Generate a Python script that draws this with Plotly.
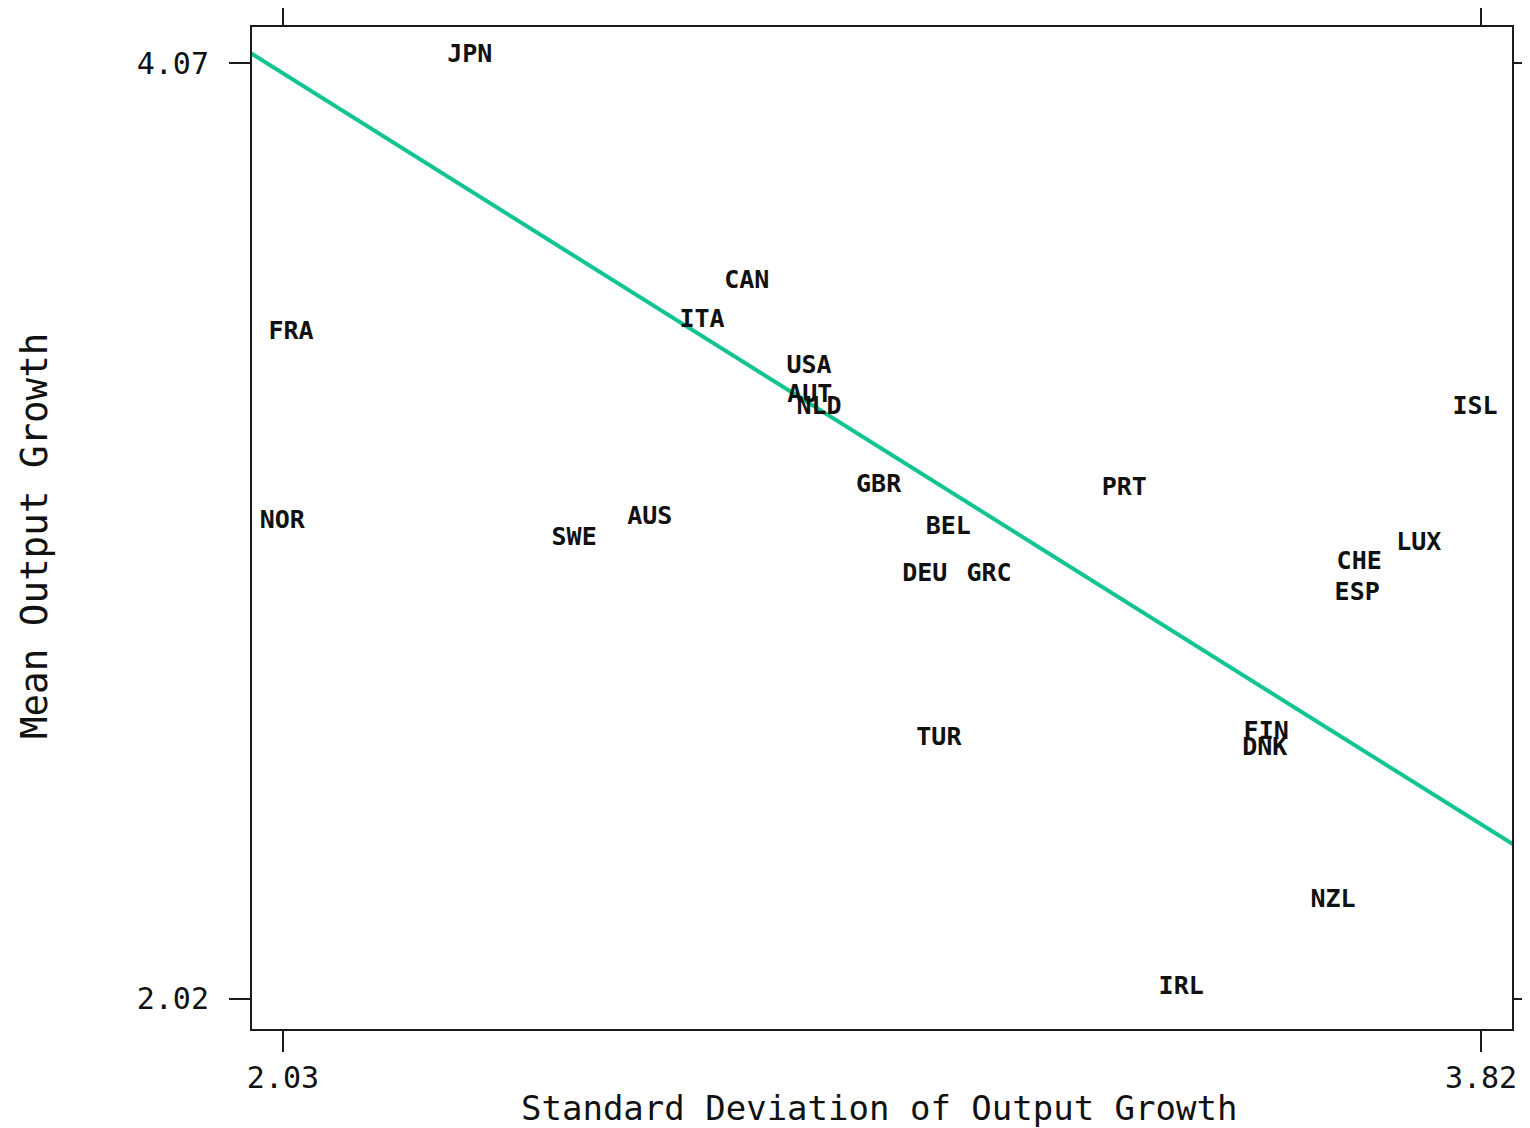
import plotly.graph_objects as go

# Data
countries = ["JPN", "CAN", "ITA", "FRA", "USA", "AUT", "NLD", "ISL", "GBR", "PRT",
             "NOR", "AUS", "SWE", "BEL", "LUX", "CHE", "DEU", "GRC", "ESP", "TUR",
             "FIN", "DNK", "NZL", "IRL"]
std_growth = [2.309, 2.723, 2.656, 2.042, 2.816, 2.817, 2.831, 3.811, 2.920, 3.287,
              2.029, 2.578, 2.465, 3.024, 3.727, 3.638, 2.989, 3.085, 3.635, 3.010,
              3.499, 3.497, 3.599, 3.372]
mean_growth = [4.085, 3.592, 3.505, 3.480, 3.404, 3.342, 3.314, 3.314, 3.143, 3.137,
               3.066, 3.075, 3.027, 3.053, 3.018, 2.975, 2.950, 2.950, 2.907, 2.589,
               2.602, 2.569, 2.234, 2.044]

# Fitted regression line: mean = a + b * std
fit_intercept = 5.913
fit_slope = -0.919
fit_x = [1.95, 3.90]
fit_y = [fit_intercept + fit_slope * v for v in fit_x]

x_ticks = [2.03, 3.82]
y_ticks = [2.02, 4.07]

FONT = "DejaVu Sans Mono"

fig = go.Figure()
fig.add_trace(go.Scatter(
    x=fit_x, y=fit_y, mode="lines",
    line=dict(color="#12c393", width=4),
    hoverinfo="skip", showlegend=False,
))
fig.add_trace(go.Scatter(
    x=std_growth, y=mean_growth, mode="text", text=countries,
    textposition="middle center",
    textfont=dict(family=FONT, size=25, color="#111111", weight="bold"),
    cliponaxis=False, showlegend=False,
))

axis_common = dict(
    showgrid=False, zeroline=False, automargin=False,
    showline=True, linecolor="#1a1a1a", linewidth=2, mirror="ticks",
    ticks="outside", ticklen=21, tickwidth=2, tickcolor="#1a1a1a",
    tickfont=dict(family=FONT, size=30, color="#111111"),
)

fig.update_layout(
    width=1522, height=1120,
    margin=dict(l=244, r=18, t=19, b=99),
    paper_bgcolor="white", plot_bgcolor="white",
    xaxis=dict(range=[1.9837, 3.8663], tickvals=x_ticks,
               ticktext=[f"{v:.2f}" for v in x_ticks],
               **axis_common),
    yaxis=dict(range=[1.954, 4.149], tickvals=y_ticks,
               ticktext=[f"{v:.2f}" for v in y_ticks],
               ticklabelstandoff=14,
               **axis_common),
    annotations=[
        dict(text="Standard Deviation of Output Growth", xref="paper", yref="paper",
             x=0.498, y=-0.079, xanchor="center", yanchor="middle", showarrow=False,
             font=dict(family=FONT, size=34, color="#111111")),
        dict(text="Mean Output Growth", xref="paper", yref="paper",
             x=-0.173, y=0.492, xanchor="center", yanchor="middle", showarrow=False,
             textangle=-90,
             font=dict(family=FONT, size=37.5, color="#111111")),
    ],
)

fig.write_html("out.html")
